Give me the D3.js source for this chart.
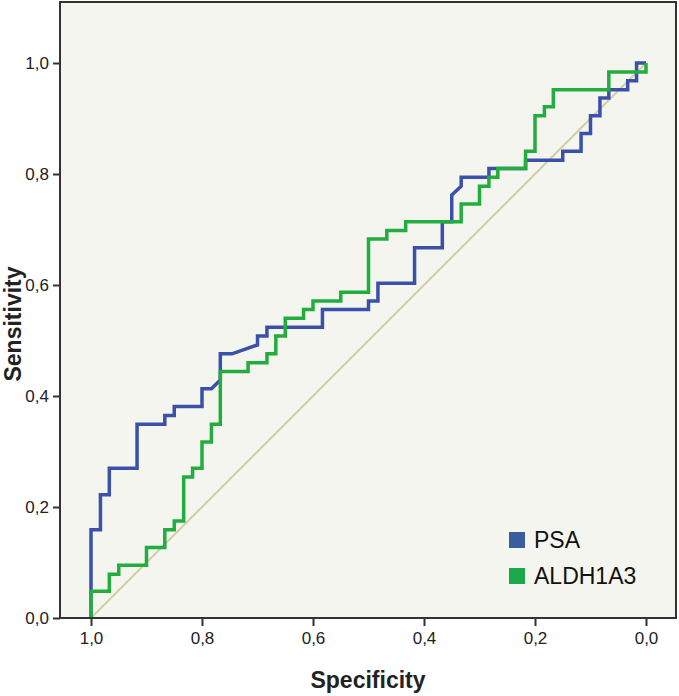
<!DOCTYPE html>
<html>
<head>
<meta charset="utf-8">
<script src="https://cdn.jsdelivr.net/npm/d3@7"></script>
<style>
  body { margin: 0; background: #ffffff; }
  .tick text { font-family: "Liberation Sans", Arial, sans-serif; font-size: 17px; fill: #222; }
  .tick line { stroke: #333; stroke-width: 2; }
</style>
</head>
<body>
<div id="chart"></div>
<script>
const width = 679, height = 696
const frame = {left: 60, top: 2, right: 676, bottom: 618}

// ROC vertices: specificity / sensitivity
const psaSpec = [1, 1, 0.983, 0.983, 0.967, 0.967, 0.917, 0.917, 0.867, 0.867, 0.850, 0.850, 0.800, 0.800, 0.783,
    0.767, 0.767, 0.746, 0.700, 0.700, 0.683, 0.683, 0.583, 0.583, 0.500, 0.500, 0.483, 0.483, 0.417, 0.417,
    0.367, 0.367, 0.350, 0.350, 0.333, 0.333, 0.283, 0.283, 0.217, 0.217, 0.150, 0.150, 0.117, 0.117, 0.100,
    0.100, 0.083, 0.083, 0.067, 0.067, 0.033, 0.033, 0.017, 0.017, 0]
const psaSens = [0, 0.159, 0.159, 0.222, 0.222, 0.270, 0.270, 0.349, 0.349, 0.365, 0.365, 0.381, 0.381, 0.413, 0.413,
    0.429, 0.476, 0.476, 0.492, 0.508, 0.508, 0.524, 0.524, 0.556, 0.556, 0.571, 0.571, 0.603, 0.603, 0.667,
    0.667, 0.714, 0.714, 0.762, 0.778, 0.794, 0.794, 0.810, 0.810, 0.825, 0.825, 0.841, 0.841, 0.873, 0.873,
    0.905, 0.905, 0.937, 0.937, 0.952, 0.952, 0.968, 0.968, 1, 1]

const aldhSpec = [1, 1, 0.967, 0.967, 0.950, 0.950, 0.900, 0.900, 0.867, 0.867, 0.850, 0.850, 0.833, 0.833, 0.817,
    0.817, 0.800, 0.800, 0.783, 0.783, 0.767, 0.767, 0.717, 0.717, 0.683, 0.683, 0.667, 0.667, 0.650, 0.650,
    0.617, 0.617, 0.600, 0.600, 0.550, 0.550, 0.500, 0.500, 0.467, 0.467, 0.433, 0.433, 0.333, 0.333, 0.300,
    0.300, 0.283, 0.283, 0.267, 0.267, 0.217, 0.217, 0.200, 0.200, 0.183, 0.183, 0.167, 0.167, 0.067, 0.067, 0, 0]
const aldhSens = [0, 0.048, 0.048, 0.079, 0.079, 0.095, 0.095, 0.127, 0.127, 0.159, 0.159, 0.175, 0.175, 0.254, 0.254,
    0.270, 0.270, 0.317, 0.317, 0.349, 0.349, 0.444, 0.444, 0.460, 0.460, 0.476, 0.476, 0.508, 0.508, 0.540,
    0.540, 0.556, 0.556, 0.571, 0.571, 0.587, 0.587, 0.683, 0.683, 0.698, 0.698, 0.714, 0.714, 0.746, 0.746,
    0.778, 0.778, 0.794, 0.794, 0.810, 0.810, 0.841, 0.841, 0.905, 0.905, 0.921, 0.921, 0.952, 0.952, 0.984, 0.984, 1]

const tickValues = [0, 0.2, 0.4, 0.6, 0.8, 1.0]
const seriesNames = ["PSA", "ALDH1A3"]
const seriesColors = ["#3a50ab", "#22ad3f"]
const swatchColors = ["#3a5d9c", "#1aa84a"]

const xScale = d3.scaleLinear().domain([1, 0]).range([91, 646])
const yScale = d3.scaleLinear().domain([0, 1]).range([618, 63])

const svg = d3.select("#chart").append("svg")
    .attr("width", width)
    .attr("height", height)

// plot background + frame
svg.append("rect")
    .attr("x", frame.left)
    .attr("y", frame.top)
    .attr("width", frame.right - frame.left)
    .attr("height", frame.bottom - frame.top)
    .attr("fill", "#f5f5ef")

const fmt = d => d.toFixed(1).replace(".", ",")

// y axis
svg.append("g")
    .attr("transform", "translate(" + frame.left + ",0)")
    .call(d3.axisLeft(yScale).tickValues(tickValues).tickFormat(fmt).tickSize(7).tickPadding(4))
    .call(g => g.select(".domain").remove())

// x axis
svg.append("g")
    .attr("transform", "translate(0," + frame.bottom + ")")
    .call(d3.axisBottom(xScale).tickValues(tickValues).tickFormat(fmt).tickSize(8).tickPadding(6))
    .call(g => g.select(".domain").remove())

// reference diagonal
svg.append("line")
    .attr("x1", xScale(1)).attr("y1", yScale(0))
    .attr("x2", xScale(0)).attr("y2", yScale(1))
    .attr("stroke", "#d2cfa6")
    .attr("stroke-width", 2)

const line = d3.line()
    .x(d => xScale(d[0]))
    .y(d => yScale(d[1]))

const series = [d3.zip(psaSpec, psaSens), d3.zip(aldhSpec, aldhSens)]

svg.selectAll(".roc")
    .data(series)
    .enter().append("path")
    .attr("class", "roc")
    .attr("d", line)
    .attr("fill", "none")
    .attr("stroke", (d, i) => seriesColors[i])
    .attr("stroke-width", 3.5)
    .attr("stroke-linejoin", "miter")

svg.append("rect")
    .attr("x", frame.left)
    .attr("y", frame.top)
    .attr("width", frame.right - frame.left)
    .attr("height", frame.bottom - frame.top)
    .attr("fill", "none")
    .attr("stroke", "#333")
    .attr("stroke-width", 2)

// legend
const legend = svg.append("g")
seriesNames.forEach((name, i) => {
    legend.append("rect")
        .attr("x", 509)
        .attr("y", 532 + i * 36)
        .attr("width", 16)
        .attr("height", 16)
        .attr("fill", swatchColors[i])
    legend.append("text")
        .attr("x", 534)
        .attr("y", 548 + i * 36)
        .attr("font-family", "Liberation Sans, Arial, sans-serif")
        .attr("font-size", 23)
        .attr("fill", "#111")
        .text(name)
})

// axis titles
svg.append("text")
    .attr("x", 368)
    .attr("y", 688)
    .attr("text-anchor", "middle")
    .attr("font-family", "Liberation Sans, Arial, sans-serif")
    .attr("font-weight", "bold")
    .attr("font-size", 23)
    .attr("fill", "#222")
    .text("Specificity")

svg.append("text")
    .attr("transform", "translate(21,324) rotate(-90)")
    .attr("text-anchor", "middle")
    .attr("font-family", "Liberation Sans, Arial, sans-serif")
    .attr("font-weight", "bold")
    .attr("font-size", 23)
    .attr("fill", "#222")
    .text("Sensitivity")
</script>
</body>
</html>
